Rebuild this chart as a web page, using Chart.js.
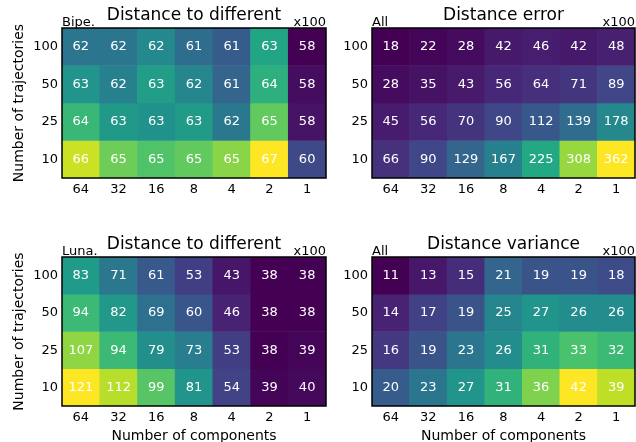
<!DOCTYPE html>
<html>
<head>
<meta charset="utf-8">
<script src="https://cdn.jsdelivr.net/npm/chart.js@4"></script>
<style>
html, body { margin: 0; padding: 0; background: #fff; }
#wrap { position: relative; width: 636px; height: 442px; overflow: hidden; }
canvas { position: absolute; }
</style>
</head>
<body>
<div id="wrap">
<canvas id="c0" width="330" height="200" style="left:0;top:0"></canvas>
<canvas id="c1" width="306" height="200" style="left:330px;top:0"></canvas>
<canvas id="c2" width="330" height="242" style="left:0;top:200px"></canvas>
<canvas id="c3" width="306" height="242" style="left:330px;top:200px"></canvas>
</div>
<script>
// columns: number of components, rows (top to bottom): number of trajectories
const componentLabels = ['64', '32', '16', '8', '4', '2', '1'];
const trajectoryLabels = ['100', '50', '25', '10'];

// values x100; decimals estimated from the cell shades
const bipeDistDiff = [
    [61.5, 61.5, 62.2, 61.2, 60.6, 63.3, 58.0],
    [62.6, 61.9, 63.0, 62.1, 60.9, 63.7, 58.3],
    [64.0, 62.8, 62.5, 62.9, 61.6, 64.8, 58.45],
    [66.3, 65.0, 64.5, 64.8, 65.4, 67.0, 60.0],
];
const allDistError = [
    [18, 22, 28, 42, 46, 42, 48],
    [28, 35, 43, 56, 64, 71, 89],
    [45, 56, 70, 90, 112, 139, 178],
    [66, 90, 129, 167, 225, 308, 362],
];
const lunaDistDiff = [
    [83, 71, 61, 53, 43, 38, 38],
    [94, 82, 69, 60, 46, 38, 38],
    [107, 94, 79, 73, 53, 38, 39],
    [121, 112, 99, 81, 54, 39, 40],
];
const allDistVar = [
    [11, 13, 15, 21, 19, 19, 18],
    [14, 17, 19, 25, 27, 26, 26],
    [16, 19, 23, 26, 31, 33, 32],
    [20, 23, 27, 31, 36, 42, 39],
];

const FONT = '"DejaVu Sans", "Liberation Sans", sans-serif';
Chart.defaults.font.family = FONT;
Chart.defaults.color = '#000';

const viridisStops = ['#440154', '#482475', '#414487', '#355f8d', '#2a788e',
    '#21918c', '#22a884', '#44bf70', '#7ad151', '#bddf26', '#fde725'];

function hexRgb(h) {
    return [1, 3, 5].map((i) => parseInt(h.substr(i, 2), 16));
}

function viridis(t) {
    t = Math.max(0, Math.min(1, t));
    const p = t * (viridisStops.length - 1);
    const i = Math.min(Math.floor(p), viridisStops.length - 2);
    const f = p - i;
    const a = hexRgb(viridisStops[i]);
    const b = hexRgb(viridisStops[i + 1]);
    const c = a.map((v, k) => Math.round(v + (b[k] - v) * f));
    return 'rgb(' + c.join(',') + ')';
}

/**
 * Draws cell numbers, frame, title and corner notes
 */
const heatText = {
    id: 'heatText',
    afterDatasetsDraw: function(chart, args, opts) {
        const ctx = chart.ctx;
        const a = chart.chartArea;
        ctx.save();
        ctx.font = '13px ' + FONT;
        ctx.fillStyle = '#fff';
        ctx.textAlign = 'center';
        ctx.textBaseline = 'middle';
        chart.data.datasets.forEach((ds, i) => {
            chart.getDatasetMeta(i).data.forEach((bar, j) => {
                ctx.fillText(String(Math.round(opts.values[i][j])), bar.x,
                    (bar.y + bar.base) / 2);
            });
        });

        ctx.strokeStyle = '#000';
        ctx.lineWidth = 1.5;
        ctx.strokeRect(a.left, a.top, a.right - a.left, a.bottom - a.top);

        ctx.fillStyle = '#000';
        ctx.textBaseline = 'alphabetic';
        ctx.font = '17px ' + FONT;
        ctx.fillText(opts.title, (a.left + a.right) / 2, a.top - 8);
        ctx.font = '13px ' + FONT;
        ctx.textAlign = 'left';
        ctx.fillText(opts.tag, a.left, a.top - 2);
        ctx.textAlign = 'right';
        ctx.fillText('x100', a.right, a.top - 2);
        ctx.restore();
    },
};

function makePanel(id, values, title, tag, cfg) {
    const flat = values.flat();
    const min = Math.min(...flat);
    const max = Math.max(...flat);
    const n = trajectoryLabels.length;

    const datasets = values.map((row, i) => ({
        data: row.map(() => [n - 1 - i, n - i]),
        backgroundColor: row.map((v) => viridis((v - min) / (max - min))),
        borderWidth: 0,
        barPercentage: 1,
        categoryPercentage: 1,
        grouped: false,
    }));

    return new Chart(document.getElementById(id), {
        type: 'bar',
        data: {labels: componentLabels, datasets: datasets},
        options: {
            responsive: false,
            animation: false,
            layout: {padding: {top: cfg.top, right: cfg.right, left: 0, bottom: 0}},
            plugins: {
                legend: {display: false},
                tooltip: {enabled: false},
                heatText: {values: values, title: title, tag: tag},
            },
            scales: {
                x: {
                    grid: {display: false, drawTicks: false},
                    border: {display: false},
                    ticks: {font: {size: 13}, padding: 4},
                    title: {
                        display: cfg.xTitle,
                        text: 'Number of components',
                        font: {size: 14},
                        padding: {top: 0, bottom: -3},
                    },
                    afterFit: (s) => {
                        s.height = cfg.xHeight;
                    },
                },
                y: {
                    min: 0,
                    max: n,
                    grid: {display: false, drawTicks: false},
                    border: {display: false},
                    ticks: {
                        font: {size: 13},
                        padding: 4,
                        autoSkip: false,
                        callback: (v) => trajectoryLabels[Math.round(n - 0.5 - v)],
                    },
                    afterBuildTicks: (s) => {
                        s.ticks = trajectoryLabels.map((_, i) => ({value: n - 0.5 - i}));
                    },
                    title: {
                        display: cfg.yTitle,
                        text: 'Number of trajectories',
                        font: {size: 14},
                        padding: {top: 10.5, bottom: 0},
                    },
                    afterFit: (s) => {
                        s.width = cfg.yWidth;
                    },
                },
            },
        },
        plugins: [heatText],
    });
}

makePanel('c0', bipeDistDiff, 'Distance to different', 'Bipe.',
    {top: 28, right: 4, xHeight: 22, yWidth: 62, xTitle: false, yTitle: true});
makePanel('c1', allDistError, 'Distance error', 'All',
    {top: 28, right: 1, xHeight: 22, yWidth: 42, xTitle: false, yTitle: false});
makePanel('c2', lunaDistDiff, 'Distance to different', 'Luna.',
    {top: 57, right: 4, xHeight: 36, yWidth: 62, xTitle: true, yTitle: true});
makePanel('c3', allDistVar, 'Distance variance', 'All',
    {top: 57, right: 1, xHeight: 36, yWidth: 42, xTitle: true, yTitle: false});
</script>
</body>
</html>
